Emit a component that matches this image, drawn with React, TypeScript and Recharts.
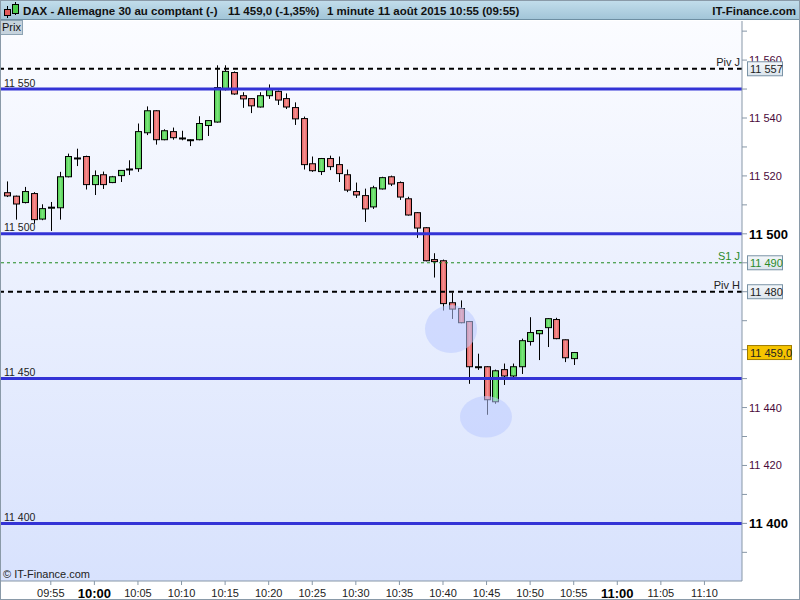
import React from 'react';
import { ComposedChart, Bar, XAxis, YAxis, CartesianGrid, ReferenceLine, ReferenceDot } from 'recharts';

const times = [
  '09:50','09:51','09:52','09:53','09:54','09:55','09:56','09:57','09:58','09:59',
  '10:00','10:01','10:02','10:03','10:04','10:05','10:06','10:07','10:08','10:09',
  '10:10','10:11','10:12','10:13','10:14','10:15','10:16','10:17','10:18','10:19',
  '10:20','10:21','10:22','10:23','10:24','10:25','10:26','10:27','10:28','10:29',
  '10:30','10:31','10:32','10:33','10:34','10:35','10:36','10:37','10:38','10:39',
  '10:40','10:41','10:42','10:43','10:44','10:45','10:46','10:47','10:48','10:49',
  '10:50','10:51','10:52','10:53','10:54','10:55',
];
const opens = [
  11514.2,11513.0,11510.8,11513.9,11505.1,11509.2,11509.0,11519.7,11526.2,11526.7,
  11517.0,11520.4,11517.7,11520.1,11522.4,11522.5,11534.9,11542.5,11532.5,11535.3,
  11533.1,11532.5,11532.5,11537.4,11538.6,11549.8,11555.7,11547.7,11546.7,11543.8,
  11547.7,11549.2,11546.7,11543.6,11539.8,11524.2,11521.5,11526.0,11523.9,11520.4,
  11514.6,11513.2,11509.3,11515.5,11519.7,11517.7,11512.1,11507.3,11502.1,11491.1,
  11490.7,11476.2,11474.2,11469.7,11454.1,11454.1,11442.0,11453.1,11450.9,11454.1,
  11462.8,11465.5,11467.6,11470.4,11463.4,11456.9,
];
const highs = [
  11518.1,11513.2,11516.2,11514.4,11510.2,11511.0,11521.4,11527.7,11529.4,11527.0,
  11521.9,11521.5,11520.0,11522.0,11525.4,11538.1,11544.0,11542.7,11536.1,11536.7,
  11535.6,11532.7,11540.6,11539.2,11558.2,11558.2,11556.1,11548.9,11546.9,11548.9,
  11551.6,11549.5,11548.5,11545.4,11540.5,11526.7,11526.2,11527.0,11526.7,11522.2,
  11517.7,11515.6,11516.6,11519.7,11520.1,11518.1,11512.8,11507.5,11502.3,11493.3,
  11491.1,11479.7,11477.0,11469.9,11458.6,11454.3,11453.1,11455.2,11455.2,11463.8,
  11471.2,11466.8,11470.9,11471.0,11463.5,11459.2,
];
const lows = [
  11512.7,11504.9,11510.5,11503.5,11504.7,11501.0,11504.9,11519.5,11523.4,11515.3,
  11513.4,11515.5,11517.5,11517.9,11520.3,11521.4,11534.1,11530.8,11532.3,11532.5,
  11532.3,11530.3,11532.3,11533.8,11538.4,11549.5,11548.0,11543.5,11541.7,11543.6,
  11546.6,11544.5,11543.1,11537.6,11522.2,11521.4,11520.3,11522.0,11517.9,11514.4,
  11512.4,11504.1,11508.6,11515.3,11516.5,11511.7,11506.3,11498.6,11490.5,11484.9,
  11473.5,11470.6,11469.1,11448.2,11453.0,11437.5,11441.3,11447.8,11450.2,11451.6,
  11461.4,11456.4,11460.9,11463.6,11455.7,11454.7,
];
const closes = [
  11513.1,11510.3,11514.6,11504.9,11508.7,11509.2,11519.7,11526.7,11526.2,11517.0,
  11520.1,11517.0,11519.7,11521.9,11522.4,11535.3,11542.5,11532.5,11535.6,11533.2,
  11533.1,11532.5,11538.1,11539.1,11550.5,11556.1,11548.3,11546.6,11544.2,11547.7,
  11549.8,11546.2,11543.8,11539.7,11523.9,11521.8,11526.0,11523.2,11520.8,11515.1,
  11513.4,11508.6,11515.9,11519.4,11517.2,11512.7,11506.5,11502.0,11490.7,11490.4,
  11475.9,11474.0,11469.3,11454.1,11454.1,11442.7,11452.7,11450.9,11454.1,11463.1,
  11465.9,11466.6,11470.7,11463.8,11457.2,11459.0,
];

const xTickLabels = ['09:55','10:00','10:05','10:10','10:15','10:20','10:25','10:30','10:35','10:40','10:45','10:50','10:55','11:00','11:05','11:10'];
const yTickValues = [11390,11400,11410,11420,11430,11440,11450,11460,11470,11480,11490,11500,11510,11520,11530,11540,11550,11560,11570];
const roundLevels = [11550, 11500, 11450, 11400];
const pivotNames = ['Piv J', 'S1 J', 'Piv H'];
const pivotValues = [11557, 11490, 11480];
const lastPrice = 11459.0;
const highlightT = [40.92, 44.93];
const highlightY = [11467.1, 11436.8];
const highlightRy = [24, 20.7];

const toMin = (s: string) => {
  const [hh, mm] = s.split(':').map(Number);
  return (hh - 10) * 60 + mm;
};

const data = times.map((tm, i) => ({
  t: toMin(tm),
  o: opens[i],
  h: highs[i],
  l: lows[i],
  c: closes[i],
  range: [lows[i], highs[i]],
}));

const FONT = '"Liberation Sans", Arial, Helvetica, sans-serif';
const fmt = (v: number) => String(Math.round(v)).replace(/(\d)(\d{3})$/, '$1 $2');
const fmtDec = (v: number) => fmt(Math.floor(v)) + ',' + (Math.round(v * 10) % 10);

const Candle = (props: any) => {
  const { x, y, width, height, payload } = props;
  if (!payload || x == null) return <g />;
  const { o, h, l, c } = payload;
  const top = Math.min(y, y + height);
  const hgt = Math.abs(height);
  const k = hgt / (h - l);
  const py = (v: number) => top + (h - v) * k;
  const cx = Math.round(x + width / 2) + 0.5;
  const up = c >= o;
  const bt = py(Math.max(o, c));
  const bb = py(Math.min(o, c));
  const bodyH = Math.max(bb - bt, 1);
  return (
    <g>
      <line x1={cx} x2={cx} y1={top} y2={top + hgt} stroke="#000" strokeWidth={1} />
      <rect x={cx - 3} y={bt} width={6} height={bodyH} fill={up ? 'url(#gUp)' : 'url(#gDn)'} stroke="#000" strokeWidth={1} />
    </g>
  );
};

const XTick = (props: any) => {
  const { x, y, payload } = props;
  const mins = payload.value;
  const hh = 10 + Math.floor(mins / 60);
  const mm = ((mins % 60) + 60) % 60;
  const label = mins < 0 ? xTickLabels[0] : `${hh}:${String(mm).padStart(2, '0')}`;
  const major = mm === 0 && mins >= 0;
  return (
    <text x={x} y={y} dy={major ? 12 : 11} textAnchor="middle" fontFamily={FONT}
      fontSize={major ? 13 : 11} fontWeight={major ? 'bold' : 'normal'} fill={major ? '#000' : '#222'}>
      {label}
    </text>
  );
};

// labels covered by the price boxes on the right axis
const hiddenYLabels = [11460, 11480];
const clippedYLabels = [11560];

const YTick = (props: any) => {
  const { x, y, payload } = props;
  const v = payload.value;
  if (v % 20 !== 0 || hiddenYLabels.includes(v)) return <g />;
  const major = v % 100 === 0;
  const clipped = clippedYLabels.includes(v);
  const id = 'yclip' + v;
  return (
    <g>
      {clipped && (
        <clipPath id={id}>
          <rect x={x - 4} y={y - 12} width={60} height={13.5} />
        </clipPath>
      )}
      <text x={x} y={y} dy={major ? 5 : 4} textAnchor="start" fontFamily={FONT}
        clipPath={clipped ? `url(#${id})` : undefined}
        fontSize={major ? 13 : 11} fontWeight={major ? 'bold' : 'normal'} fill={major ? '#000' : '#4a0a3a'}>
        {fmt(v)}
      </text>
    </g>
  );
};

const roundLabel = (text: string) => (p: any) => {
  const vb = p.viewBox || {};
  return (
    <text x={vb.x + 4} y={vb.y - 2.5} fontFamily={FONT} fontSize={10.5} fill="#222">{text}</text>
  );
};

const pivotLabel = (name: string, text: string, color: string) => (p: any) => {
  const vb = p.viewBox || {};
  const right = vb.x + vb.width;
  return (
    <g>
      <text x={right - 2} y={vb.y - 3} textAnchor="end" fontFamily={FONT} fontSize={11} fill={color}>{name}</text>
      <rect x={right + 5.5} y={vb.y - 7} width={35} height={14} fill="url(#gBox)" stroke="#7a93a6" strokeWidth={1} />
      <text x={right + 8} y={vb.y + 4} fontFamily={FONT} fontSize={11} fill={color}>{text}</text>
    </g>
  );
};

const lastLabel = (p: any) => {
  const vb = p.viewBox || {};
  const right = vb.x + vb.width;
  return (
    <g>
      <rect x={right + 5.5} y={vb.y - 7} width={44} height={14} fill="#f6c400" stroke="#a07c00" strokeWidth={1} />
      <text x={right + 8} y={vb.y + 4} fontFamily={FONT} fontSize={11} fill="#222">{fmtDec(lastPrice)}</text>
    </g>
  );
};

const Ellipse = (ry: number) => (p: any) => (
  <ellipse cx={p.cx} cy={p.cy} rx={26} ry={ry} fill="#bccbff" fillOpacity={0.55} stroke="none" />
);

const pivotColors = ['#000', '#1e8a1e', '#000'];
const pivotTextColors = ['#222', '#2a8a2a', '#222'];

export default function App() {
  const xTicks = xTickLabels.map(toMin);
  return (
    <div style={{ position: 'absolute', left: 0, top: 0, width: 800, height: 600, background: '#fff', overflow: 'hidden', fontFamily: FONT }}>
      <ComposedChart width={800} height={600} data={data} margin={{ top: 21, right: 0, bottom: 0, left: 0 }}>
        <defs>
          <linearGradient id="gBg" x1="0" y1="0" x2="0" y2="1">
            <stop offset="0" stopColor="#fbfcff" />
            <stop offset="1" stopColor="#d8e2fd" />
          </linearGradient>
          <linearGradient id="gUp" x1="0" y1="0" x2="1" y2="0">
            <stop offset="0" stopColor="#4ccc4c" />
            <stop offset="0.5" stopColor="#7ce57c" />
            <stop offset="1" stopColor="#4ccc4c" />
          </linearGradient>
          <linearGradient id="gDn" x1="0" y1="0" x2="1" y2="0">
            <stop offset="0" stopColor="#e25a5a" />
            <stop offset="0.5" stopColor="#f49090" />
            <stop offset="1" stopColor="#e25a5a" />
          </linearGradient>
          <linearGradient id="gBox" x1="0" y1="0" x2="0" y2="1">
            <stop offset="0" stopColor="#f4f7fa" />
            <stop offset="1" stopColor="#dbe4ec" />
          </linearGradient>
        </defs>
        <CartesianGrid fill="url(#gBg)" horizontal={false} vertical={false} stroke="none" />
        <XAxis dataKey="t" type="number" domain={[-10.83, 74.31]} ticks={xTicks} allowDataOverflow
          height={19} tickSize={4} tickMargin={1} interval={0}
          axisLine={{ stroke: '#8797a7' }} tickLine={{ stroke: '#8797a7' }} tick={<XTick />} />
        <YAxis orientation="right" type="number" domain={[11380.1, 11573.5]} ticks={yTickValues} allowDataOverflow
          width={58} tickSize={5} tickMargin={2} interval={0}
          axisLine={{ stroke: '#8797a7' }} tickLine={{ stroke: '#8797a7' }} tick={<YTick />} />
        {highlightT.map((t, i) => (
          <ReferenceDot key={'hl' + i} x={t} y={highlightY[i]} r={26} shape={Ellipse(highlightRy[i])} ifOverflow="visible" />
        ))}
        <Bar dataKey="range" barSize={7} shape={<Candle />} isAnimationActive={false} />
        {roundLevels.map((v) => (
          <ReferenceLine key={'r' + v} y={v} stroke="#3333d6" strokeWidth={3} label={roundLabel(fmt(v))} ifOverflow="visible" />
        ))}
        {pivotValues.map((v, i) => (
          <ReferenceLine key={'p' + v} y={v} stroke={pivotColors[i]}
            strokeWidth={i === 1 ? 1 : 2} strokeDasharray={i === 1 ? '3 3' : '5 4'}
            label={pivotLabel(pivotNames[i], fmt(v), pivotTextColors[i])} ifOverflow="visible" />
        ))}
        <ReferenceLine y={lastPrice} stroke="none" label={lastLabel} ifOverflow="visible" />
      </ComposedChart>

      <div style={{ position: 'absolute', left: 0, top: 0, width: 800, height: 20, boxSizing: 'border-box',
        background: 'linear-gradient(#c3deec, #a2c5d8)', borderBottom: '1px solid #6d8ea2',
        fontSize: 11.5, fontWeight: 'bold', color: '#111', whiteSpace: 'nowrap', lineHeight: '14px' }}>
        <svg width={20} height={20} style={{ position: 'absolute', left: 2, top: 0 }}>
          <line x1={5.5} x2={5.5} y1={6} y2={18} stroke="#000" />
          <rect x={2.5} y={9.5} width={6} height={6} fill="#e25a5a" stroke="#000" />
          <line x1={13.5} x2={13.5} y1={2} y2={15} stroke="#000" />
          <rect x={10.5} y={4.5} width={6} height={9} fill="#4ccc4c" stroke="#000" />
        </svg>
        <span style={{ position: 'absolute', left: 23, top: 4 }}>DAX - Allemagne 30 au comptant (-)</span>
        <span style={{ position: 'absolute', left: 228, top: 4 }}>11 459,0 (-1,35%)</span>
        <span style={{ position: 'absolute', left: 327, top: 4 }}>1 minute</span>
        <span style={{ position: 'absolute', left: 378, top: 4 }}>11 août 2015 10:55 (09:55)</span>
        <span style={{ position: 'absolute', right: 4, top: 4 }}>IT-Finance.com</span>
      </div>
      <div style={{ position: 'absolute', left: 0, top: 20, width: 23, height: 15, boxSizing: 'border-box',
        background: '#c6d3dd', border: '1px solid #8da3b3', fontSize: 11, color: '#111', lineHeight: '13px', paddingLeft: 1 }}>
        Prix
      </div>
      <div style={{ position: 'absolute', left: 3, top: 568, fontSize: 11, color: '#222' }}>© IT-Finance.com</div>
      <div style={{ position: 'absolute', left: 0, top: 0, width: 800, height: 600, boxSizing: 'border-box',
        border: '1px solid #8a9aa8', pointerEvents: 'none' }} />
    </div>
  );
}
